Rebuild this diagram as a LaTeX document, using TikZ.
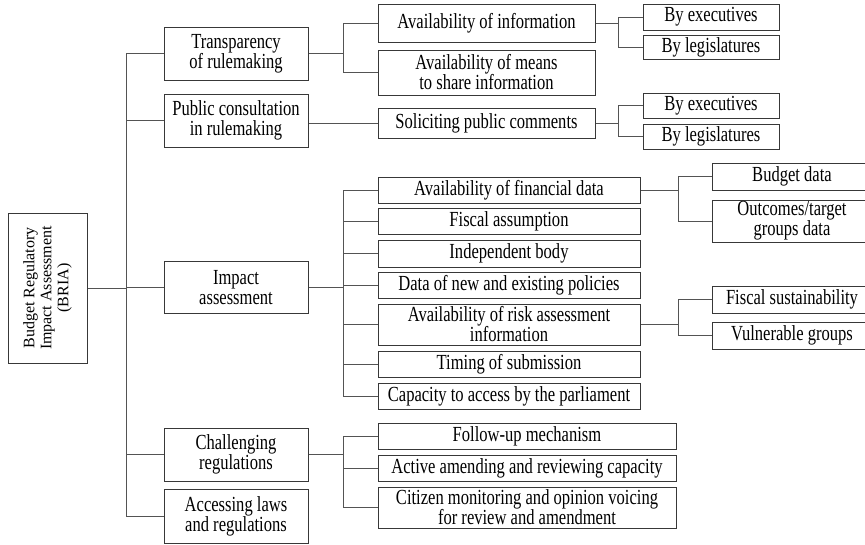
\documentclass[tikz,border=0pt]{standalone}
\usepackage{fontspec}
\setmainfont{Liberation Serif}
\newfontfamily\boxfont[FakeStretch=0.77]{Liberation Serif}
\usepackage{tikz}
\definecolor{boxline}{gray}{0.22}
\definecolor{linkline}{gray}{0.33}

\begin{document}
\begin{tikzpicture}[x=1pt,y=-1pt,
	box/.style={draw=boxline,line width=1pt,inner sep=0pt,align=center,
		font=\boxfont\fontsize{21.5}{20}\selectfont},
	link/.style={draw=linkline,line width=1pt}]
	\useasboundingbox (0,0) rectangle (865,544);

	% racine
	\node[box,rotate=90,minimum width=150pt,minimum height=79pt,
		font=\fontsize{16}{17}\selectfont] (bria) at (47.5,288)
		{Budget Regulatory\\Impact Assessment\\(BRIA)};

	% niveau 1
	\node[box,minimum width=144pt,minimum height=53pt] (transp) at (236,53.5) {Transparency\\of rulemaking};
	\node[box,minimum width=144pt,minimum height=53pt] (consult) at (236,120.5) {Public consultation\\in rulemaking};
	\node[box,minimum width=144pt,minimum height=52pt] (impact) at (236,287.5) {Impact\\assessment};
	\node[box,minimum width=144pt,minimum height=53pt] (challenge) at (236,454.5) {Challenging\\regulations};
	\node[box,minimum width=144pt,minimum height=54pt] (access) at (236,516) {Accessing laws\\and regulations};

	% niveau 2
	\node[box,minimum width=217pt,minimum height=38pt] (info) at (486.5,23) {Availability of information};
	\node[box,minimum width=217pt,minimum height=45pt] (means) at (486.5,72.5) {Availability of means\\to share information};
	\node[box,minimum width=217pt,minimum height=30pt] (solicit) at (486.5,123) {Soliciting public comments};

	\node[box,minimum width=262pt,minimum height=26pt] (findata) at (509,190) {Availability of financial data};
	\node[box,minimum width=262pt,minimum height=26pt] (fiscal) at (509,221) {Fiscal assumption};
	\node[box,minimum width=262pt,minimum height=27pt] (indep) at (509,253.5) {Independent body};
	\node[box,minimum width=262pt,minimum height=26pt] (policies) at (509,285) {Data of new and existing policies};
	\node[box,minimum width=262pt,minimum height=41pt] (risk) at (509,324.5) {Availability of risk assessment\\information};
	\node[box,minimum width=262pt,minimum height=26pt] (timing) at (509,364) {Timing of submission};
	\node[box,minimum width=262pt,minimum height=26pt] (capacity) at (509,396) {Capacity to access by the parliament};

	\node[box,minimum width=298pt,minimum height=26pt] (follow) at (527,436) {Follow-up mechanism};
	\node[box,minimum width=298pt,minimum height=26pt] (amend) at (527,468) {Active amending and reviewing capacity};
	\node[box,minimum width=298pt,minimum height=41pt] (citizen) at (527,507.5) {Citizen monitoring and opinion voicing\\for review and amendment};

	% niveau 3
	\node[box,minimum width=136pt,minimum height=26pt] (exec1) at (711,17) {By executives};
	\node[box,minimum width=136pt,minimum height=24pt] (legis1) at (711,47) {By legislatures};
	\node[box,minimum width=136pt,minimum height=25pt] (exec2) at (711,105.5) {By executives};
	\node[box,minimum width=136pt,minimum height=25pt] (legis2) at (711,136.5) {By legislatures};

	\node[box,minimum width=160pt,minimum height=27pt] (budget) at (792,176.5) {Budget data};
	\node[box,minimum width=160pt,minimum height=42pt] (outcome) at (792,221) {Outcomes/target\\groups data};
	\node[box,minimum width=160pt,minimum height=27pt] (sustain) at (792,299.5) {Fiscal sustainability};
	\node[box,minimum width=160pt,minimum height=27pt] (vulner) at (792,335.5) {Vulnerable groups};

	% lignes de jonction
	\coordinate (j0) at (126,0);
	\coordinate (j1) at (343,0);
	\coordinate (j2) at (618,0);
	\coordinate (j3) at (678,0);

	\draw[link] (bria.south) -- (bria.south -| j0);
	\draw[link] (transp.west) -- (transp.west -| j0) -- (access.west -| j0) -- (access.west);
	\foreach \n in {consult,impact,challenge}
		\draw[link] (\n.west) -- (\n.west -| j0);

	\draw[link] (transp.east) -- (transp.east -| j1);
	\draw[link] (info.west) -- (info.west -| j1) -- (means.west -| j1) -- (means.west);
	\draw[link] (solicit.west -| consult.east) -- (solicit.west);

	\draw[link] (impact.east) -- (impact.east -| j1);
	\draw[link] (findata.west) -- (findata.west -| j1) -- (capacity.west -| j1) -- (capacity.west);
	\foreach \n in {fiscal,indep,policies,risk,timing}
		\draw[link] (\n.west) -- (\n.west -| j1);

	\draw[link] (challenge.east) -- (challenge.east -| j1);
	\draw[link] (follow.west) -- (follow.west -| j1) -- (citizen.west -| j1) -- (citizen.west);
	\draw[link] (amend.west) -- (amend.west -| j1);

	\draw[link] (info.east) -- (info.east -| j2);
	\draw[link] (exec1.west) -- (exec1.west -| j2) -- (legis1.west -| j2) -- (legis1.west);
	\draw[link] (solicit.east) -- (solicit.east -| j2);
	\draw[link] (exec2.west) -- (exec2.west -| j2) -- (legis2.west -| j2) -- (legis2.west);

	\draw[link] (findata.east) -- (findata.east -| j3);
	\draw[link] (budget.west) -- (budget.west -| j3) -- (outcome.west -| j3) -- (outcome.west);
	\draw[link] (risk.east) -- (risk.east -| j3);
	\draw[link] (sustain.west) -- (sustain.west -| j3) -- (vulner.west -| j3) -- (vulner.west);
\end{tikzpicture}
\end{document}
